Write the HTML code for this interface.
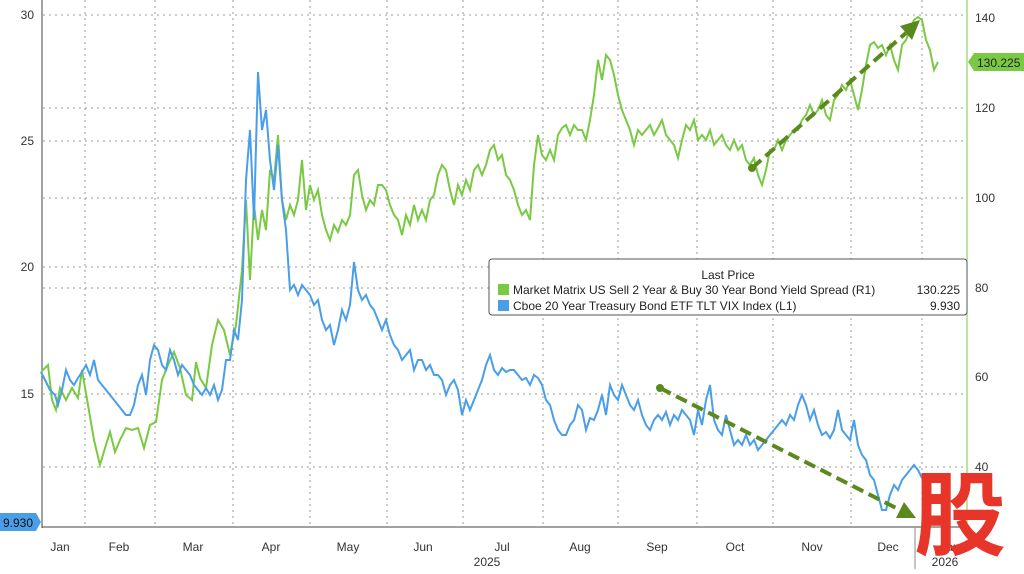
<!DOCTYPE html>
<html><head><meta charset="utf-8"><style>
body{margin:0;background:#fff;width:1024px;height:569px;overflow:hidden;font-family:"Liberation Sans",sans-serif}
</style></head><body>
<svg width="1024" height="569" xmlns="http://www.w3.org/2000/svg" font-family="Liberation Sans, sans-serif">
<rect width="1024" height="569" fill="#fff"/>
<g stroke="#999" stroke-dasharray="2,4" stroke-width="1">
<line x1="43" y1="15" x2="967" y2="15"/><line x1="43" y1="141" x2="967" y2="141"/><line x1="43" y1="267" x2="967" y2="267"/><line x1="43" y1="394" x2="967" y2="394"/>
<line x1="43" y1="108" x2="967" y2="108"/><line x1="43" y1="198" x2="967" y2="198"/><line x1="43" y1="288" x2="967" y2="288"/><line x1="43" y1="467" x2="967" y2="467"/>
<g>
<line x1="85" y1="0" x2="85" y2="527"/><line x1="155" y1="0" x2="155" y2="527"/><line x1="233" y1="0" x2="233" y2="527"/><line x1="310" y1="0" x2="310" y2="527"/><line x1="387" y1="0" x2="387" y2="527"/><line x1="463" y1="0" x2="463" y2="527"/><line x1="543" y1="0" x2="543" y2="527"/><line x1="618" y1="0" x2="618" y2="527"/><line x1="697" y1="0" x2="697" y2="527"/><line x1="773" y1="0" x2="773" y2="527"/><line x1="851" y1="0" x2="851" y2="527"/><line x1="922" y1="0" x2="922" y2="527"/>
</g></g>
<line x1="42" y1="0" x2="42" y2="528" stroke="#444"/>
<line x1="42" y1="527" x2="967" y2="527" stroke="#444"/>
<line x1="967" y1="0" x2="967" y2="528" stroke="#7ac943"/>
<line x1="915" y1="528" x2="915" y2="569" stroke="#888"/>
<g font-size="12" fill="#333" text-anchor="end">
<text x="34" y="19">30</text><text x="34" y="145">25</text><text x="34" y="271">20</text><text x="34" y="398">15</text>
</g>
<g font-size="12" fill="#333">
<text x="975" y="22">140</text><text x="975" y="112">120</text><text x="975" y="202">100</text><text x="975" y="292">80</text><text x="975" y="381">60</text><text x="975" y="471">40</text>
</g>
<g font-size="12" fill="#333" text-anchor="middle">
<text x="60" y="551">Jan</text><text x="119" y="551">Feb</text><text x="193" y="551">Mar</text><text x="271" y="551">Apr</text><text x="348" y="551">May</text><text x="423" y="551">Jun</text><text x="502" y="551">Jul</text><text x="580" y="551">Aug</text><text x="657" y="551">Sep</text><text x="735" y="551">Oct</text><text x="812" y="551">Nov</text><text x="888" y="551">Dec</text><text x="950" y="551">Jan</text>
<text x="487" y="566">2025</text><text x="945" y="566">2026</text>
</g>
<polyline fill="none" stroke="#7ac943" stroke-width="2" points="41,372 48,365 52,400 56,410 60,388 66,400 72,388 78,398 82,370 88,405 94,440 100,465 105,448 110,432 115,452 120,440 126,428 132,430 138,428 144,448 150,425 156,422 162,380 168,365 174,352 180,368 186,395 192,400 196,362 200,378 206,388 212,345 218,320 224,330 230,355 236,325 242,270 246,200 250,280 254,205 258,240 262,210 266,230 270,170 274,180 278,135 282,200 286,220 290,205 294,215 298,200 302,160 306,210 310,185 314,200 318,190 322,215 326,230 330,240 334,225 338,232 342,220 346,225 350,215 354,175 358,170 362,195 366,210 370,200 374,205 378,185 382,185 386,190 390,205 394,215 398,220 402,235 406,215 410,225 414,205 418,220 422,210 426,220 430,200 434,195 438,175 442,165 446,170 450,190 454,205 458,185 462,195 466,180 470,190 474,170 478,165 482,175 486,165 490,150 494,145 498,160 502,155 506,175 510,180 514,190 518,205 522,215 526,210 530,220 534,165 538,135 542,155 546,160 550,150 554,160 558,135 562,128 566,125 570,135 574,125 578,130 582,130 586,140 590,120 594,95 598,60 602,80 606,55 610,60 614,75 618,95 622,110 626,120 630,130 634,145 638,130 642,135 646,130 650,125 654,135 658,128 662,120 666,135 670,140 674,145 678,158 682,140 686,125 690,130 694,120 698,140 702,135 706,140 710,130 714,145 718,140 722,135 726,145 730,150 734,140 738,150 742,145 746,160 750,165 754,158 758,175 762,185 766,170 770,150 774,150 778,140 782,150 786,140 790,135 794,130 798,130 802,120 806,115 810,105 814,115 818,110 822,100 826,115 830,120 834,100 838,95 842,85 846,90 850,80 854,95 858,110 862,90 866,65 870,45 874,42 878,48 882,45 886,55 890,45 894,60 898,70 902,45 906,40 910,30 914,20 918,17 922,20 926,40 930,50 934,70 938,62"/>
<polyline fill="none" stroke="#4a9ee8" stroke-width="2" points="41,372 45,380 50,390 55,395 58,405 62,390 66,370 70,380 74,385 78,378 82,372 86,365 90,375 94,360 98,380 102,385 106,390 110,395 114,400 118,405 122,410 126,415 130,415 134,405 138,385 142,375 146,395 150,360 154,345 158,350 162,365 166,370 170,350 174,360 178,375 182,365 186,370 190,375 194,385 198,390 202,395 206,388 210,395 214,385 218,400 222,390 226,360 230,360 234,330 238,340 242,300 246,180 250,130 254,220 258,72 262,130 266,110 270,160 274,190 278,145 282,200 286,230 290,290 294,285 298,295 302,285 306,290 310,295 314,305 318,300 322,320 326,330 330,325 334,345 338,330 342,310 346,320 350,305 354,262 358,290 362,300 366,295 370,305 374,310 378,320 382,330 386,320 390,335 394,345 398,350 402,360 406,355 410,350 414,370 418,360 422,360 426,370 430,365 434,375 438,375 442,380 446,395 450,385 454,380 458,390 462,415 466,400 470,410 474,400 478,390 482,380 486,365 490,355 494,370 498,375 502,368 506,372 510,370 514,370 518,375 522,380 526,378 530,385 534,375 538,378 542,385 546,400 550,405 554,420 558,430 562,435 566,435 570,425 574,420 578,405 582,410 586,430 590,418 594,420 598,410 602,395 606,415 610,385 614,395 618,400 622,385 626,395 630,405 634,410 638,400 642,415 646,425 650,430 654,420 658,415 662,420 666,412 670,425 674,415 678,420 682,410 686,415 690,420 694,435 698,410 702,425 706,400 710,385 714,420 718,430 722,435 726,415 730,430 734,445 738,440 742,445 746,435 750,445 754,440 758,450 762,445 766,440 770,435 774,430 778,425 782,420 786,425 790,415 794,420 798,405 802,395 806,405 810,420 814,410 818,425 822,435 826,432 830,438 834,430 838,410 842,430 846,435 850,440 854,420 858,445 862,455 866,460 870,475 874,480 878,495 882,510 886,510 890,495 894,485 898,490 902,480 906,475 910,470 914,465 918,470 922,478 926,475 930,478 934,480"/>
<g stroke="#5a8a1e" stroke-width="4" stroke-dasharray="12,6" fill="none">
<line x1="752" y1="168" x2="906" y2="33"/>
<line x1="660" y1="388" x2="900" y2="510"/>
</g>
<circle cx="752" cy="168" r="4" fill="#5a8a1e"/><circle cx="660" cy="388" r="4" fill="#5a8a1e"/>
<polygon points="920,20 900,26 912,40" fill="#5a8a1e"/>
<polygon points="916,518 896,518 904,502" fill="#5a8a1e"/>
<rect x="489" y="259" width="478" height="56" rx="3" fill="#fff" stroke="#555"/>
<text x="728" y="279" font-size="12" fill="#222" text-anchor="middle">Last Price</text>
<rect x="498" y="284" width="11" height="11" fill="#7ac943"/>
<rect x="498" y="300" width="11" height="11" fill="#4a9ee8"/>
<g font-size="12" fill="#222">
<text x="513" y="294">Market Matrix US Sell 2 Year &amp; Buy 30 Year Bond Yield Spread  (R1)</text>
<text x="513" y="310">Cboe 20 Year Treasury Bond ETF TLT VIX Index  (L1)</text>
<text x="960" y="294" text-anchor="end">130.225</text>
<text x="960" y="310" text-anchor="end">9.930</text>
</g>
<polygon points="968,62 974,53 1024,53 1024,71 974,71" fill="#7ac943"/>
<text x="977" y="67" font-size="12" fill="#222">130.225</text>
<polygon points="0,513 36,513 41,522 36,531 0,531" fill="#4a9ee8"/>
<text x="3" y="527" font-size="12" fill="#111">9.930</text>
<text x="960" y="548" font-size="92" font-weight="bold" fill="#e8352a" text-anchor="middle" font-family="Noto Sans CJK SC, sans-serif">股</text>
</svg>
</body></html>
